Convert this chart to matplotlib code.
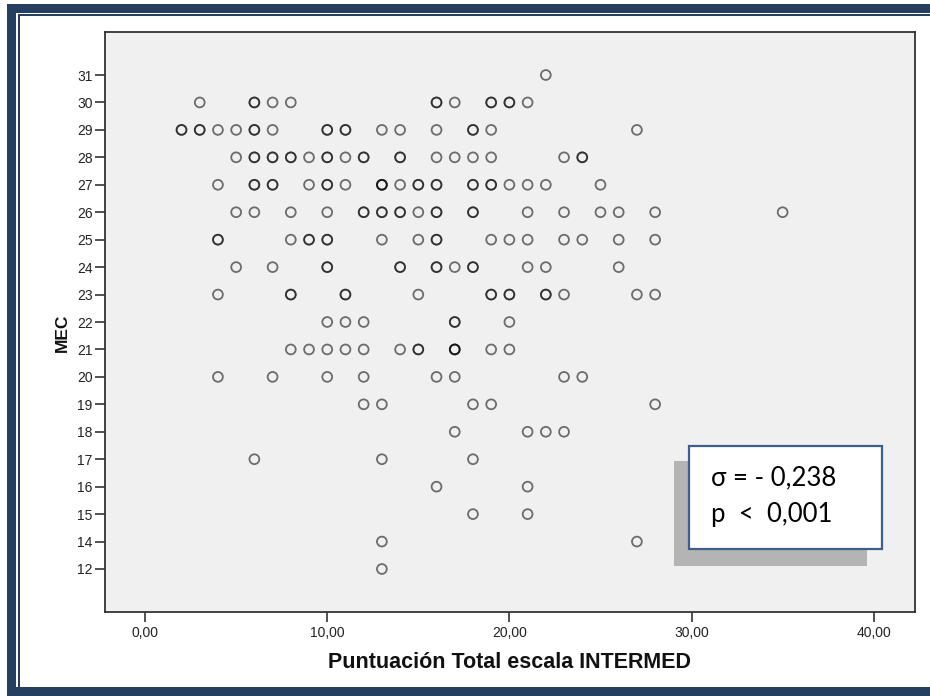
import matplotlib
matplotlib.use("Agg")
import matplotlib.pyplot as plt
from matplotlib.patches import Rectangle

# MEC categories shown on the y axis (ordinal, evenly spaced)
mec_levels = [12, 14, 15, 16, 17, 18, 19, 20, 21, 22, 23, 24, 25, 26, 27, 28, 29, 30, 31]

# INTERMED total scores observed at each MEC level (repeats = overlapping cases)
intermed_12 = [13]
intermed_14 = [13, 27]
intermed_15 = [18, 21]
intermed_16 = [16, 21]
intermed_17 = [6, 13, 18]
intermed_18 = [17, 21, 22, 23]
intermed_19 = [12, 13, 18, 19, 28]
intermed_20 = [4, 7, 10, 12, 16, 17, 23, 24]
intermed_21 = [8, 9, 10, 11, 12, 14, 15, 15, 17, 17, 17, 19, 20]
intermed_22 = [10, 11, 12, 17, 17, 20]
intermed_23 = [4, 8, 8, 11, 11, 15, 19, 19, 20, 20, 22, 22, 23, 27, 28]
intermed_24 = [5, 7, 10, 10, 14, 14, 16, 16, 17, 18, 18, 21, 22, 26]
intermed_25 = [4, 4, 8, 9, 9, 10, 10, 13, 15, 16, 16, 19, 20, 21, 23, 24, 26, 28]
intermed_26 = [5, 6, 8, 10, 12, 12, 13, 13, 14, 14, 15, 16, 16, 18, 18, 21, 23, 25, 26, 28, 35]
intermed_27 = [4, 6, 6, 7, 7, 9, 10, 10, 11, 13, 13, 13, 14, 15, 15, 16, 16, 18, 18, 19, 19,
               20, 21, 22, 25]
intermed_28 = [5, 6, 6, 7, 7, 8, 8, 9, 10, 10, 11, 12, 12, 14, 14, 16, 17, 18, 19, 23, 24, 24]
intermed_29 = [2, 2, 3, 3, 4, 5, 6, 6, 7, 10, 10, 11, 11, 13, 14, 16, 18, 18, 19, 27]
intermed_30 = [3, 6, 6, 7, 8, 16, 16, 17, 19, 19, 20, 20, 21]
intermed_31 = [22]

intermed_by_level = [intermed_12, intermed_14, intermed_15, intermed_16, intermed_17,
                     intermed_18, intermed_19, intermed_20, intermed_21, intermed_22,
                     intermed_23, intermed_24, intermed_25, intermed_26, intermed_27,
                     intermed_28, intermed_29, intermed_30, intermed_31]

x_ticks = [0, 10, 20, 30, 40]
x_tick_labels = ["0,00", "10,00", "20,00", "30,00", "40,00"]
stats_text = "σ = - 0,238\np  <  0,001"

W, H = 930, 696
fig = plt.figure(figsize=(W / 100, H / 100), dpi=100)
fig.patch.set_facecolor("white")

def fx(px):
    return px / W

def fy(py):
    return 1 - py / H

ax = fig.add_axes([fx(105), fy(612), fx(914.7) - fx(105), fy(32) - fy(612)])
ax.set_facecolor("#F0F0F0")

xs, ys = [], []
for i, vals in enumerate(intermed_by_level):
    for v in vals:
        xs.append(v)
        ys.append(i)
ax.scatter(xs, ys, s=50, facecolors="none", edgecolors="black", linewidths=1.3,
           alpha=0.55, zorder=3)

ax.set_xlim(-2.2, 42.25)
ax.set_ylim(-1.567, len(mec_levels) - 1 + 1.567)
ax.set_xticks(x_ticks)
ax.set_xticklabels(x_tick_labels)
ax.set_yticks(range(len(mec_levels)))
ax.set_yticklabels([str(v) for v in mec_levels])

lab_font = "Liberation Sans"
for lab in ax.get_xticklabels() + ax.get_yticklabels():
    lab.set_fontfamily(lab_font)
    lab.set_fontsize(10)
    lab.set_color("#222222")
ax.tick_params(axis="both", direction="out", length=7, width=1.1, color="#222222")
ax.tick_params(axis="x", pad=3)
ax.tick_params(axis="y", pad=2)
for sp in ax.spines.values():
    sp.set_color("#333333")
    sp.set_linewidth(1.3)

ax.set_xlabel("Puntuación Total escala INTERMED", fontfamily=lab_font, fontsize=15.5,
              fontweight="bold", labelpad=9, color="#111111")
ax.set_ylabel("MEC", fontfamily=lab_font, fontsize=12.5, fontweight="bold",
              color="#111111")
ax.yaxis.set_label_coords((70 - 105) / 809.7, (612 - 333) / 580)

# statistics box with shadow
fig.patches.append(Rectangle((fx(674), fy(566)), fx(867) - fx(674), fy(461) - fy(566),
                             transform=fig.transFigure, facecolor="#B4B4B4",
                             edgecolor="none", zorder=5))
fig.patches.append(Rectangle((fx(689), fy(549)), fx(882) - fx(689), fy(446) - fy(549),
                             transform=fig.transFigure, facecolor="white",
                             edgecolor="#3C5F8E", linewidth=1.6, zorder=6))
fig.text(fx(711), fy(496), stats_text, fontfamily="Lato", fontsize=18.5,
         color="black", va="center", ha="left", linespacing=1.6, zorder=7)

# page frame (double border)
blue = "#243F60"
for (x0, y0, x1, y1) in [(7, 4, 930, 13.3), (7, 4, 16, 696), (7, 687, 930, 696),
                          (17.8, 14.2, 930, 15.8), (17.8, 14.2, 19.6, 687)]:
    fig.patches.append(Rectangle((fx(x0), fy(y1)), fx(x1) - fx(x0), fy(y0) - fy(y1),
                                 transform=fig.transFigure, facecolor=blue,
                                 edgecolor="none", zorder=8))

fig.savefig("out.png", dpi=100)
